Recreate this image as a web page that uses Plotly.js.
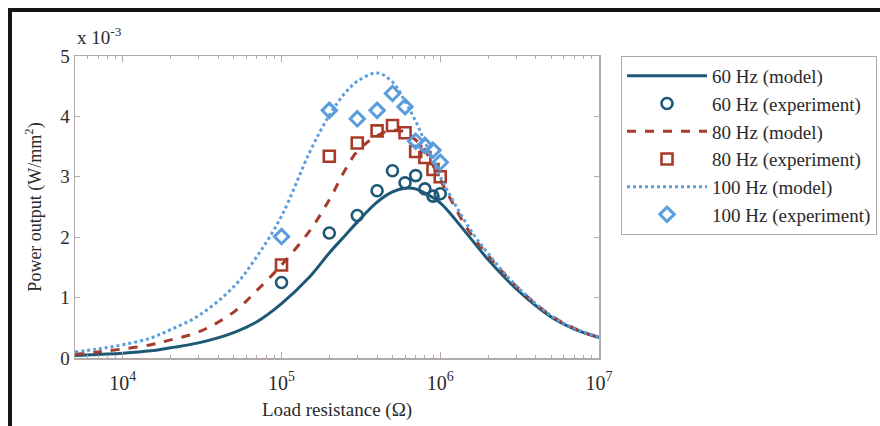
<!DOCTYPE html>
<html>
<head>
<meta charset="utf-8">
<script src="https://cdn.plot.ly/plotly-3.0.1.min.js"></script>
<style>
  html, body { margin: 0; padding: 0; background: #fff; }
  #wrap { position: relative; width: 880px; height: 426px; }
  #chart { width: 880px; height: 426px; }
  #frame { position: absolute; left: 8px; top: 8px; width: 880px; height: 430px;
           border-left: 4px solid #151515; border-top: 4px solid #151515; pointer-events: none; }
</style>
</head>
<body>
<div id="wrap"><div id="chart"></div><div id="frame"></div></div>
<script>
// Model curves: load resistance (ohm) and power output (x 1e-3 W/mm^2)
const modelR = [5e3, 7e3, 1e4, 1.5e4, 2e4, 3e4, 5e4, 7e4, 1e5, 1.5e5, 2e5, 2.5e5, 3e5, 4e5, 5e5, 6e5, 7e5, 8e5, 1e6, 1.5e6, 2e6, 3e6, 5e6, 7e6, 1e7];
const model60 = [0.04, 0.06, 0.08, 0.12, 0.17, 0.25, 0.42, 0.60, 0.90, 1.34, 1.74, 2.02, 2.25, 2.58, 2.75, 2.81, 2.80, 2.73, 2.57, 2.03, 1.63, 1.15, 0.68, 0.48, 0.34];
const model80 = [0.06, 0.10, 0.15, 0.22, 0.30, 0.43, 0.76, 1.12, 1.54, 2.10, 2.62, 3.10, 3.42, 3.68, 3.77, 3.74, 3.61, 3.44, 2.95, 2.12, 1.70, 1.19, 0.70, 0.49, 0.34];
const model100 = [0.10, 0.15, 0.22, 0.33, 0.47, 0.70, 1.18, 1.68, 2.35, 3.40, 4.02, 4.38, 4.58, 4.72, 4.57, 4.25, 3.92, 3.58, 3.00, 2.18, 1.73, 1.20, 0.70, 0.49, 0.35];

// Experiments
const expR = [1e5, 2e5, 3e5, 4e5, 5e5, 6e5, 7e5, 8e5, 9e5, 1e6];
const exp60 = [1.25, 2.07, 2.36, 2.77, 3.10, 2.90, 3.02, 2.80, 2.68, 2.72];
const exp80 = [1.54, 3.34, 3.56, 3.76, 3.85, 3.73, 3.42, 3.32, 3.12, 3.00];
const exp100 = [2.01, 4.10, 3.96, 4.10, 4.38, 4.16, 3.59, 3.52, 3.44, 3.24];

const names = ['60 Hz (model)', '60 Hz (experiment)', '80 Hz (model)', '80 Hz (experiment)', '100 Hz (model)', '100 Hz (experiment)'];
const xTickVals = [1e4, 1e5, 1e6, 1e7];
const xTickText = ['10<sup>4</sup>', '10<sup>5</sup>', '10<sup>6</sup>', '10<sup>7</sup>'];
const yTickVals = [0, 1, 2, 3, 4, 5];

const c60 = '#1d5877', c80 = '#a63b29', c100 = '#5a9ddf';
const FONT = 'Liberation Serif, Times New Roman, serif';
const TXT = '#2a2a2a';
const AX = '#b3abab';

const minorX = [];
for (let d = 3; d <= 6; d++) for (let k = 2; k <= 9; k++) { const v = k * Math.pow(10, d); if (v > 5e3 && v < 1e7) minorX.push(v); }

const traces = [
  {x: modelR, y: model60, name: names[0], mode: 'lines', line: {color: c60, width: 3, shape: 'spline', smoothing: 1}, legendgroup: 'a'},
  {x: expR, y: exp60, name: names[1], mode: 'markers', marker: {symbol: 'circle-open', size: 11, color: c60, line: {width: 2.6, color: c60}}, legendgroup: 'b'},
  {x: modelR, y: model80, name: names[2], mode: 'lines', line: {color: c80, width: 3, dash: 'dash', shape: 'spline', smoothing: 1}, legendgroup: 'c'},
  {x: expR, y: exp80, name: names[3], mode: 'markers', marker: {symbol: 'square-open', size: 11, color: c80, line: {width: 2.6, color: c80}}, legendgroup: 'd'},
  {x: modelR, y: model100, name: names[4], mode: 'lines', line: {color: c100, width: 3, dash: 'dot', shape: 'spline', smoothing: 1}, legendgroup: 'e'},
  {x: expR, y: exp100, name: names[5], mode: 'markers', marker: {symbol: 'diamond-open', size: 11, color: c100, line: {width: 3, color: c100}}, legendgroup: 'f'}
];

const layout = {
  width: 880, height: 426,
  margin: {l: 75, r: 281, t: 56, b: 68, autoexpand: false},
  paper_bgcolor: '#fff', plot_bgcolor: '#fff',
  font: {family: FONT, color: TXT, size: 19},
  showlegend: true,
  legend: {
    x: 1.042, y: 1, xanchor: 'left', yanchor: 'top',
    bordercolor: '#aaa', borderwidth: 1, bgcolor: '#fff',
    font: {family: FONT, size: 19, color: TXT},
    traceorder: 'grouped', tracegroupgap: 0, itemwidth: 80
  },
  xaxis: {
    type: 'log', range: [Math.log10(5000), 7],
    tickmode: 'array', tickvals: xTickVals, ticktext: xTickText,
    ticks: 'inside', ticklen: 6, tickcolor: AX, tickwidth: 1,
    minor: {tickmode: 'array', tickvals: minorX, ticks: 'inside', ticklen: 3, tickcolor: AX},
    showline: true, linecolor: AX, linewidth: 1.5, mirror: 'ticks',
    showgrid: false, zeroline: false, ticklabelstandoff: 6,
    tickfont: {family: FONT, size: 20, color: TXT},
    title: {text: 'Load resistance (Ω)', font: {family: FONT, size: 19, color: TXT}, standoff: 10}
  },
  yaxis: {
    range: [0, 5], tickmode: 'array', tickvals: yTickVals,
    ticks: 'inside', ticklen: 5, tickcolor: AX,
    showline: true, linecolor: AX, linewidth: 1.5, mirror: 'ticks',
    showgrid: false, zeroline: false,
    tickfont: {family: FONT, size: 19, color: TXT},
    title: {text: 'Power output (W/mm<sup>2</sup>)', font: {family: FONT, size: 18, color: TXT}, standoff: 14}
  },
  annotations: [
    {xref: 'paper', yref: 'paper', x: 0, y: 1, xanchor: 'left', yanchor: 'bottom', yshift: 6,
     text: 'x 10<sup>-3</sup>', showarrow: false, font: {family: FONT, size: 19, color: TXT}}
  ]
};

Plotly.newPlot('chart', traces, layout, {staticPlot: true, displayModeBar: false});
</script>
</body>
</html>
